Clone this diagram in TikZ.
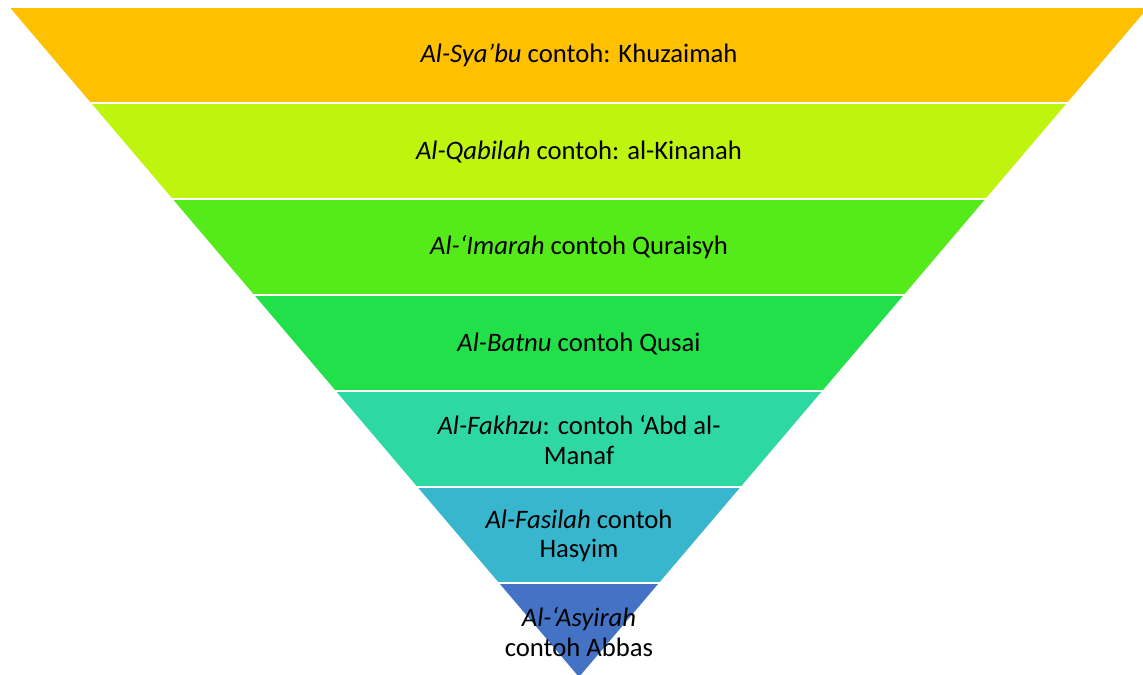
\documentclass[tikz,border=0pt]{standalone}
\usepackage{fontspec}
\setmainfont{Carlito}
\definecolor{cA}{HTML}{FFC000}
\definecolor{cB}{HTML}{BEF40E}
\definecolor{cC}{HTML}{55EA1A}
\definecolor{cD}{HTML}{22E04A}
\definecolor{cE}{HTML}{2ED8A2}
\definecolor{cF}{HTML}{38B6CE}
\definecolor{cG}{HTML}{4472C4}
\tikzset{
  lbl/.style={font=\fontsize{20}{22}\selectfont, align=center, text=black, inner sep=0pt}
}
\begin{document}
\begin{tikzpicture}[x=0.75pt,y=-0.75pt]
\useasboundingbox (0,0) rectangle (1143,675);
\def\cx{579}
\def\ay{677}
\def\kk{0.85}
\foreach \yA/\yB/\col in {7/103/cA,103/199/cB,199/295/cC,295/391/cD,391/487/cE,487/583/cF,583/677/cG}{
  \pgfmathsetmacro{\hA}{\kk*(\ay-\yA)}
  \pgfmathsetmacro{\hB}{\kk*(\ay-\yB)}
  \fill[\col] (\cx-\hA,\yA) -- (\cx+\hA,\yA) -- (\cx+\hB,\yB) -- (\cx-\hB,\yB) -- cycle;
  \draw[white, line width=1.6pt] (\cx-\hA-5,\yA) -- (\cx+\hA+5,\yA);
}
\node[lbl] (t1) at (\cx,55) {\textit{Al-Sya’bu} contoh: Khuzaimah};
\node[lbl] (t2) at (\cx,152) {\textit{Al-Qabilah} contoh: al-Kinanah};
\node[lbl] (t3) at (\cx,247) {\textit{Al-‘Imarah} contoh Quraisyh};
\node[lbl] (t4) at (\cx,344) {\textit{Al-Batnu} contoh Qusai};
\node[lbl] (t5) at (\cx,440) {\textit{Al-Fakhzu}: contoh ‘Abd al-\\Manaf};
\node[lbl] (t6) at (\cx,536) {\textit{Al-Fasilah} contoh\\Hasyim};
\node[lbl] (t7) at (\cx,632) {\textit{Al-‘Asyirah}\\contoh Abbas};
\end{tikzpicture}
\end{document}
